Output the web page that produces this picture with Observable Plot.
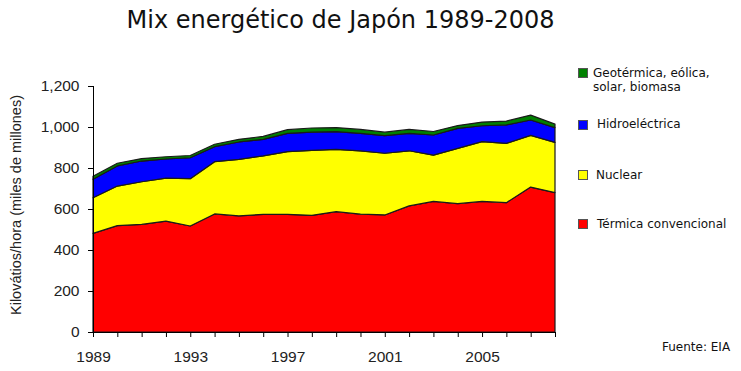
<!DOCTYPE html>
<html>
<head>
<meta charset="utf-8">
<script src="https://cdn.jsdelivr.net/npm/d3@7"></script>
<script src="https://cdn.jsdelivr.net/npm/@observablehq/plot@0.6"></script>
<style>
  html, body { margin: 0; padding: 0; background: #fff; }
  #wrap { position: relative; width: 741px; height: 371px; overflow: hidden; background: #fff; }
  #chart { position: absolute; left: 0; top: 0; }
  .t { position: absolute; white-space: pre; color: #111; }
  #title { font-family: "DejaVu Sans", Verdana, sans-serif; font-size: 24px; line-height: 24px; left: 0; width: 681px; text-align: center; top: 8px; }
  #ylab { font-family: "Liberation Sans", Arial, sans-serif; font-size: 14.5px; line-height: 15px; left: 16px; top: 205px; transform: translate(-50%, -50%) rotate(-90deg); color: #222; }
  .leg { font-family: "DejaVu Sans", Verdana, sans-serif; font-size: 12px; line-height: 14px; }
  .sw { position: absolute; width: 8px; height: 8px; border: 1px solid #555; }
  #src { font-family: "DejaVu Sans", Verdana, sans-serif; font-size: 12px; line-height: 14px; left: 662px; top: 340px; }
</style>
</head>
<body>
<div id="wrap">
  <div id="chart"></div>
</div>
<script>
// ---- data ----
const years = [1989,1990,1991,1992,1993,1994,1995,1996,1997,1998,1999,2000,2001,2002,2003,2004,2005,2006,2007,2008];
const termica = [481,519,525,541,517,576,566,574,574,569,587,575,571,615,637,626,637,631,707,680];
const nuclear = [174,193,208,210,231,255,276,285,306,317,304,309,301,269,226,270,292,289,252,245];
const hidro   = [90,98,101,93,102,73,85,81,89,89,86,85,86,85,98,97,77,90,75,72];
const otras   = [15,13,12,11,11,12,13,14,18,20,20,19,17,19,17,14,18,19,24,17];

const seriesKeys   = ["termica", "nuclear", "hidro", "otras"];
const seriesColors = ["#ff0000", "#ffff00", "#0000ff", "#008000"];
const legendLabels = ["Térmica convencional", "Nuclear", "Hidroeléctrica", "Geotérmica, eólica,\nsolar, biomasa"];
const yTicks = [0, 200, 400, 600, 800, 1000, 1200];
const xLabelYears = [1989, 1993, 1997, 2001, 2005];
const titleText = "Mix energético de Japón 1989-2008";
const yLabelText = "Kilovátios/hora (miles de millones)";
const sourceText = "Fuente: EIA";

const seriesValues = { termica, nuclear, hidro, otras };
const rows = [];
seriesKeys.forEach(k => years.forEach((y, i) => rows.push({ year: y, series: k, value: seriesValues[k][i] })));

const chart = Plot.plot({
  width: 741,
  height: 371,
  marginLeft: 93,
  marginRight: 186,
  marginTop: 86,
  marginBottom: 39,
  x: { domain: [1989, 2008] },
  y: { domain: [0, 1200] },
  color: { domain: seriesKeys, range: seriesColors },
  style: { fontFamily: "'Liberation Sans', Arial, sans-serif", fontSize: "15.5px", color: "#222", background: "transparent" },
  marks: [
    Plot.areaY(rows, Plot.stackY({ x: "year", y: "value", fill: "series", stroke: "#1a1a1a", strokeWidth: 1.2, order: seriesKeys })),
    Plot.ruleX([1989], { y1: 0, y2: 1200, stroke: "#000" }),
    Plot.ruleY([0], { x1: 1989, x2: 2008, stroke: "#000" }),
    Plot.axisY({ ticks: yTicks, tickFormat: d3.format(","), tickSize: 5, tickPadding: 9, label: null, stroke: "#000", fontSize: 15.5 }),
    Plot.axisX({ ticks: years, tickSize: 5, tickFormat: () => "", label: null, stroke: "#000" }),
    Plot.axisX({ ticks: xLabelYears, tickSize: 0, tickPadding: 18, tickFormat: d => String(d), label: null, fontSize: 15.5 })
  ]
});
document.getElementById("chart").appendChild(chart);

// ---- texts & legend (HTML) ----
const wrap = document.getElementById("wrap");
function addText(id, cls, txt) {
  const d = document.createElement("div");
  if (id) d.id = id;
  d.className = "t " + (cls || "");
  d.textContent = txt;
  wrap.appendChild(d);
  return d;
}
addText("title", "", titleText);
addText("ylab", "", yLabelText);
addText("src", "", sourceText);

// legend layout: top-to-bottom reversed stack order
const legendTops = [66, 117, 168, 217];   // text box tops
const swatchTops = [68, 120, 170, 219];
const textLefts  = [593, 597, 596, 597];
const legendOrder = [3, 2, 1, 0];
legendOrder.forEach((si, j) => {
  const sw = document.createElement("div");
  sw.className = "sw";
  sw.style.left = "578px";
  sw.style.top = swatchTops[j] + "px";
  sw.style.background = seriesColors[si];
  wrap.appendChild(sw);
  const t = addText(null, "leg", legendLabels[si]);
  t.style.left = textLefts[j] + "px";
  t.style.top = legendTops[j] + "px";
});
</script>
</body>
</html>
